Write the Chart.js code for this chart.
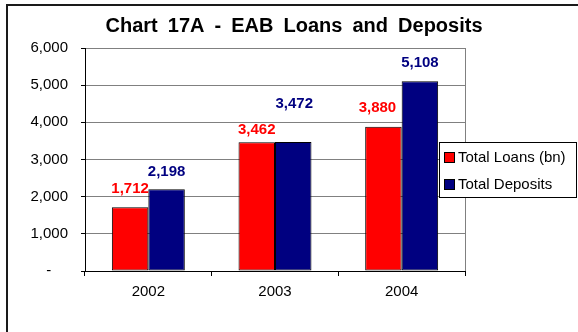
<!DOCTYPE html>
<html>
<head>
<meta charset="utf-8">
<script src="https://cdn.jsdelivr.net/npm/chart.js@4/dist/chart.umd.min.js"></script>
<style>
  html, body { margin: 0; padding: 0; background: #fff; }
  #wrap { width: 578px; height: 332px; position: relative; }
</style>
</head>
<body>
<div id="wrap"><canvas id="grafica"></canvas></div>
<script>
// Datos del gráfico
const anios = ["2002", "2003", "2004"];
const prestamos = [1712, 3462, 3880];
const depositos = [2198, 3472, 5108];
const nombresSeries = ["Total Loans (bn)", "Total Deposits"];
const ticksY = [0, 1000, 2000, 3000, 4000, 5000, 6000];

const FUENTE = "'Liberation Sans', Arial, sans-serif";

// Marco, título, leyenda y etiquetas estilo Excel
const extrasExcel = {
    id: "extrasExcel",
    beforeDraw(chart) {
        const ctx = chart.ctx;
        ctx.save();
        ctx.fillStyle = "#fff";
        ctx.fillRect(0, 0, chart.width, chart.height);
        ctx.restore();
    },
    afterDraw(chart) {
        const ctx = chart.ctx;
        const area = chart.chartArea;
        ctx.save();

        // borde derecho del área de trazado
        ctx.strokeStyle = "#808080";
        ctx.lineWidth = 1;
        ctx.beginPath();
        ctx.moveTo(Math.round(area.right) + 0.5, area.top);
        ctx.lineTo(Math.round(area.right) + 0.5, area.bottom);
        ctx.stroke();

        // etiquetas de datos
        const desplazamientos = [
            [[0, 14], [0, 8], [-6, 15]],
            [[0, 13], [1, 34], [0, 14]]
        ];
        const coloresTexto = ["#ff0000", "#000080"];
        ctx.font = "bold 15px " + FUENTE;
        ctx.textAlign = "center";
        ctx.textBaseline = "alphabetic";
        chart.data.datasets.forEach((ds, i) => {
            const meta = chart.getDatasetMeta(i);
            meta.data.forEach((bar, j) => {
                const [dx, dy] = desplazamientos[i][j];
                ctx.fillStyle = coloresTexto[i];
                ctx.fillText(ds.data[j].toLocaleString("en-US"), bar.x + dx, bar.y - dy);
            });
        });

        // título
        ctx.fillStyle = "#000";
        ctx.font = "bold 20px " + FUENTE;
        ctx.textAlign = "center";
        if ("wordSpacing" in ctx) ctx.wordSpacing = "4.5px";
        ctx.fillText("Chart 17A - EAB Loans and Deposits", 294, 32);
        if ("wordSpacing" in ctx) ctx.wordSpacing = "0px";

        // leyenda
        const lx = 439, ly = 142, lw = 138, lh = 56;
        ctx.fillStyle = "#fff";
        ctx.fillRect(lx, ly, lw, lh);
        ctx.strokeStyle = "#000";
        ctx.lineWidth = 1;
        ctx.strokeRect(lx + 0.5, ly + 0.5, lw - 1, lh - 1);
        ctx.font = "15px " + FUENTE;
        ctx.textAlign = "left";
        chart.data.datasets.forEach((ds, i) => {
            const y = ly + 10 + i * 27;
            ctx.fillStyle = ds.backgroundColor;
            ctx.fillRect(lx + 5, y, 10, 10);
            ctx.strokeRect(lx + 5.5, y + 0.5, 10, 10);
            ctx.fillStyle = "#000";
            ctx.fillText(ds.label, lx + 19, y + 10);
        });

        // marco exterior
        ctx.strokeStyle = "#1a1a1a";
        ctx.lineWidth = 2;
        ctx.beginPath();
        ctx.moveTo(7, chart.height);
        ctx.lineTo(7, 5);
        ctx.lineTo(chart.width, 5);
        ctx.stroke();

        ctx.restore();
    }
};

const ctx = document.getElementById("grafica").getContext("2d");
new Chart(ctx, {
    type: "bar",
    data: {
        labels: anios,
        datasets: [
            {
                label: nombresSeries[0],
                data: prestamos,
                backgroundColor: "#ff0000",
                borderColor: "#000",
                borderWidth: 1,
                borderSkipped: false,
                barPercentage: 1,
                categoryPercentage: 0.576
            },
            {
                label: nombresSeries[1],
                data: depositos,
                backgroundColor: "#000080",
                borderColor: "#000",
                borderWidth: 1,
                borderSkipped: false,
                barPercentage: 1,
                categoryPercentage: 0.576
            }
        ]
    },
    options: {
        responsive: true,
        maintainAspectRatio: false,
        animation: false,
        layout: { padding: { left: 0, top: 48, right: 113, bottom: 0 } },
        plugins: {
            legend: { display: false },
            title: { display: false },
            tooltip: { enabled: false }
        },
        scales: {
            x: {
                afterFit: s => { s.height = 61; },
                grid: {
                    drawOnChartArea: false,
                    tickLength: 5,
                    tickColor: "#000",
                    offset: true
                },
                border: { color: "#000", width: 1 },
                ticks: {
                    color: "#000",
                    padding: 7,
                    font: { family: FUENTE, size: 15 }
                }
            },
            y: {
                min: ticksY[0],
                max: ticksY[ticksY.length - 1],
                afterFit: s => { s.width = 85; },
                afterBuildTicks: s => { s.ticks = ticksY.map(v => ({ value: v })); },
                grid: {
                    color: "#808080",
                    tickColor: "#000",
                    tickLength: 4
                },
                border: { color: "#000", width: 1 },
                ticks: {
                    color: "#000",
                    padding: 13,
                    font: { family: FUENTE, size: 15 },
                    callback: v => v === 0 ? "-    " : v.toLocaleString("en-US")
                }
            }
        }
    },
    plugins: [extrasExcel]
});
</script>
</body>
</html>
